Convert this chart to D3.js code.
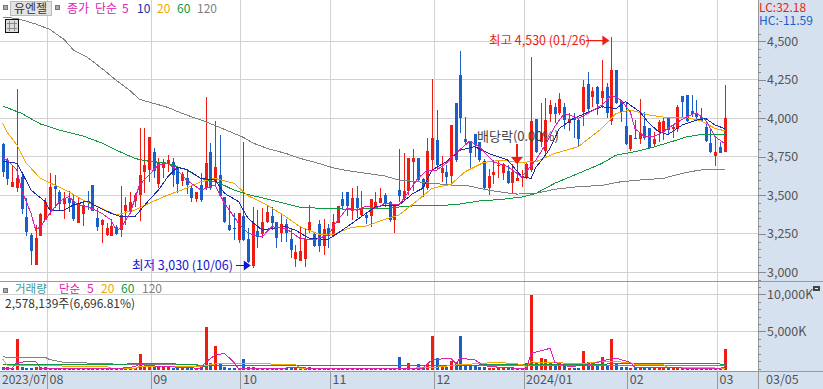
<!DOCTYPE html>
<html>
<head>
<meta charset="utf-8">
<script src="https://cdn.jsdelivr.net/npm/d3@7"></script>
<style>
  body { margin: 0; background: #fff; }
  svg { display: block; }
  text { font-family: "Liberation Sans Narrow", "Noto Sans CJK KR", sans-serif; }
</style>
</head>
<body>
<svg id="chart" width="823" height="389"></svg>
<script>
// daily candles (index 0 = left edge, 2023/07)
var opens = [
  3833,3729,3552,3545,3617,3357,3242,3047,3236,3339,
  3404,3560,3519,3443,3484,3465,3318,3378,3463,3567,
  3350,3307,3242,3236,3296,3274,3398,3394,3463,3502,
  3653,3664,3781,3573,3675,3712,3714,3675,3593,3610,
  3545,3476,3567,3545,3783,3588,3632,3491,3307,3287,
  3210,3365,3216,3041,3268,3246,3329,3365,3324,3253,
  3311,3214,3086,3075,3084,3270,3246,3313,3173,3287,
  3236,3322,3474,3521,3400,3480,3372,3372,3365,3415,
  3448,3502,3459,3339,3534,3480,3528,3718,3744,3606,
  3545,3729,3859,3647,3653,3627,4102,4281,3866,3855,
  3896,3844,3723,3549,3632,3690,3642,3658,3582,3595,
  3610,3610,3664,3995,3848,3790,4028,4071,4032,4071,
  3967,4000,3989,4039,4223,4140,4205,4134,4205,3985,
  4314,4114,3950,3798,3874,3866,3950,3935,3831,3909,
  3913,4000,3931,3928,4145,4151,4047,4037,4009,3946,
  3837,3755,3814,3783
];
var closes = [
  3653,3604,3588,3610,3411,3264,3140,3220,3378,3454,
  3556,3541,3443,3484,3452,3344,3443,3437,3456,3400,
  3292,3339,3290,3300,3248,3372,3437,3459,3502,3632,
  3697,3876,3658,3712,3718,3729,3632,3573,3638,3567,
  3480,3519,3469,3708,3545,3686,3498,3329,3274,3279,
  3383,3210,3064,3318,3227,3324,3394,3322,3225,3313,
  3257,3145,3129,3138,3218,3324,3173,3173,3281,3236,
  3326,3430,3430,3430,3480,3420,3415,3355,3476,3454,
  3480,3448,3339,3437,3495,3530,3744,3742,3599,3556,
  3788,3874,3697,3675,3621,3956,3729,4000,3844,3777,
  3827,3729,3549,3625,3649,3697,3701,3582,3649,3610,
  3619,3703,3985,3783,3907,3990,4086,4028,4123,3989,
  3993,3989,3868,4201,4058,4177,4093,4177,4032,4314,
  4097,4043,3833,3891,3868,3902,3870,3805,3866,3974,
  3982,3924,3946,4076,4104,3983,4026,4006,3983,3853,
  3783,3779,3777,4000
];
var highs = [
  3840,3740,3690,4190,3653,3480,3253,3307,3384,3480,
  3643,3632,3534,3523,3528,3502,3487,3469,3528,3567,
  3415,3346,3322,3344,3307,3560,3491,3519,3513,3937,
  3937,3876,3805,3740,3733,3762,3740,3686,3653,3668,
  3567,3524,3643,4136,3837,3980,3891,3491,3437,3383,
  3383,3848,3285,3422,3404,3415,3433,3426,3324,3378,
  3344,3285,3177,3303,3283,3437,3257,3339,3344,3313,
  3376,3430,3523,3521,3545,3560,3528,3387,3476,3523,
  3545,3513,3465,3443,3801,3772,3744,3798,3744,3610,
  3870,4253,4054,3755,3697,3956,4102,4437,4006,3855,
  3896,3844,3733,3669,3729,3723,3707,3697,3701,3833,
  3664,3707,4400,3995,4097,4130,4119,4101,4166,4101,
  4037,4037,3993,4249,4303,4201,4210,4379,4227,4530,
  4314,4114,4108,3891,3989,4125,4043,3935,3913,3989,
  4000,4000,3961,4087,4145,4151,4151,4119,4065,3967,
  3924,3881,3848,4216
];
var lows = [
  3621,3567,3552,3523,3378,3236,3047,3047,3236,3339,
  3372,3415,3398,3346,3394,3335,3318,3303,3404,3400,
  3270,3192,3236,3236,3242,3231,3307,3383,3426,3335,
  3513,3588,3610,3545,3610,3653,3556,3513,3560,3506,
  3459,3459,3459,3534,3534,3567,3495,3322,3268,3210,
  3192,3205,3058,3030,3155,3220,3318,3274,3155,3199,
  3199,3090,3032,3075,3036,3253,3166,3134,3112,3155,
  3236,3322,3404,3365,3339,3350,3357,3313,3296,3409,
  3448,3422,3329,3257,3459,3469,3502,3530,3593,3491,
  3534,3664,3664,3588,3567,3567,3718,3902,3827,3669,
  3751,3718,3539,3502,3573,3610,3599,3571,3513,3595,
  3556,3604,3649,3777,3811,3762,3978,3967,4021,3928,
  3920,3870,3811,3950,4043,4075,4021,4065,4000,3956,
  4090,3978,3827,3790,3866,3831,3859,3800,3822,3844,
  3859,3892,3870,3913,4011,3974,4011,3989,3974,3844,
  3773,3692,3773,3783
];
// volume in thousands of shares
var volumes = [
  150,150,60,4020,150,110,110,200,150,200,
  110,60,60,60,60,60,60,60,60,110,
  110,110,60,60,60,60,110,60,110,1900,
  250,560,250,180,180,180,110,110,110,110,
  60,60,250,5590,700,3030,560,250,110,110,
  60,1280,150,250,110,60,110,110,60,60,
  60,60,60,60,60,250,60,60,60,60,
  40,40,40,40,40,40,40,40,40,40,
  40,40,60,100,1550,60,700,110,560,40,
  560,4380,1370,250,250,1060,830,4380,470,470,
  330,250,250,110,110,110,30,30,200,30,
  30,700,9900,830,1370,1280,700,470,700,330,
  30,110,110,2360,830,380,380,1550,330,3990,
  700,150,150,30,110,60,60,60,60,60,
  60,60,60,110,110,60,60,110,110,60,
  60,60,60,2578
];

// moving averages, [candle index, value] read at the bends of each line
var ma5 = [[0,3740],[1,3729],[3,3664],[4,3534],[6,3383],[7,3274],[8,3296],[10,3383],[12,3459],[14,3491],[16,3437],[18,3426],[21,3383],[23,3339],[24,3274],[25,3285],[27,3383],[29,3567],[31,3632],[33,3697],[35,3708],[37,3664],[39,3599],[42,3534],[45,3567],[47,3448],[50,3318],[52,3253],[55,3231],[57,3296],[60,3285],[63,3220],[66,3210],[69,3242],[71,3339],[73,3415],[75,3404],[77,3430],[79,3415],[81,3448],[84,3437],[86,3523],[88,3610],[90,3664],[92,3664],[94,3708],[96,3772],[99,3853],[101,3816],[104,3718],[107,3686],[110,3620],[113,3729],[115,3827],[117,3946],[119,4032],[122,4000],[124,4032],[127,4086],[129,4151],[131,4118],[133,4043],[134,3934],[136,3880],[138,3880],[140,3913],[142,3956],[145,4010],[147,4036],[149,3988],[151,3880],[153,3837]];
var ma10 = [[0,3720],[3,3708],[4,3653],[6,3534],[9,3459],[10,3404],[13,3404],[15,3437],[18,3463],[20,3426],[23,3383],[25,3361],[28,3361],[31,3469],[33,3534],[35,3621],[37,3682],[39,3668],[42,3610],[45,3599],[47,3513],[50,3459],[52,3350],[55,3274],[57,3285],[60,3296],[62,3274],[65,3220],[69,3214],[71,3253],[73,3296],[76,3361],[79,3426],[82,3437],[84,3437],[87,3513],[89,3545],[91,3664],[94,3718],[97,3794],[100,3816],[103,3772],[107,3729],[110,3621],[112,3610],[113,3681],[115,3760],[116,3805],[118,3935],[121,4000],[127,4075],[130,4064],[132,4108],[135,4043],[137,3967],[139,3913],[141,3895],[144,3956],[147,3988],[149,3999],[151,3956],[153,3934]];
var ma20 = [[0,3967],[1,3907],[3,3827],[5,3708],[8,3610],[11,3567],[14,3523],[17,3469],[21,3415],[24,3372],[28,3404],[31,3448],[35,3502],[38,3534],[42,3588],[45,3610],[49,3578],[52,3497],[56,3437],[60,3361],[63,3296],[67,3248],[70,3246],[74,3292],[77,3300],[81,3344],[84,3372],[88,3469],[91,3545],[95,3571],[98,3653],[102,3714],[106,3729],[109,3714],[113,3718],[117,3772],[122,3816],[127,3935],[130,4032],[133,4054],[137,4021],[141,4004],[145,4004],[148,3984],[151,3934],[153,3919]];
var ma60 = [[0,4080],[4,4032],[8,3963],[12,3924],[17,3885],[21,3840],[24,3794],[28,3740],[30,3725],[35,3708],[39,3664],[42,3610],[46,3578],[49,3534],[52,3505],[57,3469],[63,3422],[68,3415],[74,3409],[81,3415],[86,3430],[91,3433],[96,3439],[101,3463],[106,3474],[110,3489],[113,3512],[117,3578],[122,3642],[127,3707],[130,3761],[134,3783],[137,3805],[141,3841],[145,3880],[148,3895],[153,3898]];
var ma120 = [[0,4655],[3,4649],[7,4612],[10,4577],[13,4512],[15,4443],[18,4395],[21,4324],[24,4248],[27,4179],[29,4123],[32,4097],[35,4071],[38,4032],[43,3978],[47,3928],[51,3876],[53,3840],[56,3805],[60,3772],[63,3740],[67,3707],[70,3679],[73,3660],[77,3643],[81,3625],[84,3599],[88,3588],[91,3578],[95,3567],[99,3560],[102,3539],[106,3519],[109,3508],[113,3513],[117,3539],[122,3556],[127,3564],[131,3588],[135,3599],[140,3610],[144,3642],[147,3660],[149,3668],[153,3668]];

var volMa5 = [[0,20],[2,20],[3,830],[7,970],[8,20],[16,0],[25,20],[28,250],[29,560],[31,380],[35,250],[42,20],[43,830],[45,1820],[47,2040],[49,830],[50,0],[59,0],[62,200],[65,20],[84,0],[89,20],[91,1170],[95,1390],[96,700],[97,1390],[100,1170],[102,380],[106,110],[111,0],[112,2040],[116,2720],[117,830],[120,250],[124,470],[128,1170],[130,1390],[133,830],[134,150],[152,0],[153,250]];
var volMa20 = [[0,1280],[1,380],[22,300],[23,20],[28,20],[29,250],[42,300],[46,700],[62,560],[63,20],[84,20],[91,110],[96,470],[105,830],[110,560],[111,250],[112,880],[116,830],[120,700],[122,610],[128,1010],[133,790],[134,560],[140,560],[141,100],[149,110],[153,20]];
var volMa60 = [[0,560],[25,560],[29,700],[36,700],[37,560],[41,560],[42,250],[46,470],[101,470],[129,610],[133,700],[151,650],[153,560]];
var volMa120 = [[0,1550],[9,1510],[10,1190],[13,830],[20,700],[25,560],[40,560],[42,380],[153,380]];

var monthStarts = [10, 32, 51, 70, 92, 111, 133, 152];
var monthLabels = ["08", "09", "10", "11", "12", "2024/01", "02", "03"];
var firstLabel = "2023/07";
var lastDate = "03/05";
var priceTicks = [3000, 3250, 3500, 3750, 4000, 4250, 4500];
var priceMinor = d3.range(2950, 4600, 50);
var volTicks = [5000, 10000];
var volMinor = d3.range(0, 12000, 1000);

var red = "#ee1c12", blue = "#1a5fc8", navy = "#1a2aa8", magenta = "#e020b0",
    orange = "#f0a800", green = "#109a40", gray = "#808080", gridColor = "#d2d2d2";

var plotRight = 758, priceBottom = 281, volBottom = 371;

var x = d3.scaleLinear().domain([0, 153]).range([2.7, 724.6]);
var y = d3.scaleLinear().domain([3000, 4500]).range([272.3, 41.3]);
var yVol = d3.scaleLinear().domain([0, 10000]).range([368.5, 294.3]);
var step = x(1) - x(0);

var svg = d3.select("#chart");

// panels
svg.append("rect").attr("x", plotRight).attr("y", 0).attr("width", 823 - plotRight).attr("height", 389).attr("fill", "#d6e1f0");
svg.append("rect").attr("x", 0).attr("y", volBottom).attr("width", plotRight).attr("height", 389 - volBottom).attr("fill", "#d6e1f0");

var grid = svg.append("g").attr("shape-rendering", "crispEdges").attr("stroke", gridColor);
grid.selectAll(".h").data(priceTicks).enter().append("line")
  .attr("x1", 0).attr("x2", plotRight).attr("y1", d => y(d)).attr("y2", d => y(d));
grid.selectAll(".hv").data(volTicks).enter().append("line")
  .attr("x1", 0).attr("x2", plotRight).attr("y1", d => yVol(d)).attr("y2", d => yVol(d));
grid.selectAll(".v").data(monthStarts).enter().append("line")
  .attr("x1", d => x(d) - step / 2).attr("x2", d => x(d) - step / 2)
  .attr("y1", 0).attr("y2", volBottom);

// candles
var candleData = opens.map(function (o, i) {
  return { i: i, open: o, close: closes[i], high: highs[i], low: lows[i], vol: volumes[i] };
});
function candleColor(d) { return d.close >= d.open ? red : blue; }

var candles = svg.append("g").attr("shape-rendering", "crispEdges");
candles.selectAll(".wick").data(candleData).enter().append("rect")
  .attr("x", d => Math.round(x(d.i)))
  .attr("width", 1)
  .attr("y", d => y(d.high))
  .attr("height", d => y(d.low) - y(d.high))
  .attr("fill", candleColor);
candles.selectAll(".body").data(candleData).enter().append("rect")
  .attr("x", d => Math.round(x(d.i)) - 1)
  .attr("width", 3)
  .attr("y", d => y(Math.max(d.open, d.close)))
  .attr("height", d => Math.max(1, Math.abs(y(d.open) - y(d.close))))
  .attr("fill", candleColor);

// volume bars run down to just above the date band
var bars = svg.append("g").attr("shape-rendering", "crispEdges");
bars.selectAll("rect").data(candleData).enter().append("rect")
  .attr("x", d => Math.round(x(d.i)) - 1)
  .attr("width", 3)
  .attr("y", d => yVol(d.vol))
  .attr("height", d => volBottom - 1 - yVol(d.vol))
  .attr("fill", candleColor);

// moving average lines, aliased like the original
var priceLine = d3.line().x(d => x(d[0])).y(d => y(d[1]));
var volLine = d3.line().x(d => x(d[0])).y(d => yVol(d[1]));

[[ma120, gray], [ma60, green], [ma20, orange], [ma10, navy], [ma5, magenta]].forEach(function (s) {
  svg.append("path").attr("d", priceLine(s[0])).attr("fill", "none").attr("stroke", s[1])
    .attr("stroke-width", 1).attr("shape-rendering", "crispEdges");
});
[[volMa120, gray], [volMa60, green], [volMa20, orange], [volMa5, magenta]].forEach(function (s) {
  svg.append("path").attr("d", volLine(s[0])).attr("fill", "none").attr("stroke", s[1])
    .attr("stroke-width", 1).attr("shape-rendering", "crispEdges");
});

// separators
var seps = svg.append("g").attr("shape-rendering", "crispEdges").attr("stroke", "#999");
seps.append("line").attr("x1", 0).attr("x2", 823).attr("y1", priceBottom).attr("y2", priceBottom);
seps.append("line").attr("x1", 0).attr("x2", 823).attr("y1", volBottom).attr("y2", volBottom);
seps.append("line").attr("x1", plotRight).attr("x2", plotRight).attr("y1", 0).attr("y2", 389);
seps.selectAll(".t").data(monthStarts).enter().append("line")
  .attr("x1", d => x(d) - step / 2).attr("x2", d => x(d) - step / 2)
  .attr("y1", volBottom).attr("y2", 389);

// right axes
function styleAxis(g) {
  g.attr("shape-rendering", "crispEdges");
  g.select(".domain").remove();
  g.selectAll("line").attr("stroke", "#888");
  g.selectAll("text").attr("fill", "#555").style("font-size", "12.5px");
}
svg.append("g").attr("transform", "translate(" + plotRight + ",0)")
  .call(d3.axisRight(y).tickValues(priceMinor).tickSize(3).tickFormat(""))
  .call(styleAxis);
svg.append("g").attr("transform", "translate(" + plotRight + ",0)")
  .call(d3.axisRight(y).tickValues(priceTicks).tickSize(8).tickPadding(1).tickFormat(d3.format(",")))
  .call(styleAxis);
svg.append("g").attr("transform", "translate(" + plotRight + ",0)")
  .call(d3.axisRight(yVol).tickValues(volMinor).tickSize(3).tickFormat(""))
  .call(styleAxis);
svg.append("g").attr("transform", "translate(" + plotRight + ",0)")
  .call(d3.axisRight(yVol).tickValues(volTicks).tickSize(8).tickPadding(1).tickFormat(d => d3.format(",")(d) + "K"))
  .call(styleAxis);

function label(txt, px, py, color, size) {
  return svg.append("text").attr("x", px).attr("y", py).attr("dy", "0.35em")
    .attr("fill", color).style("font-size", (size || 12.5) + "px").text(txt);
}

// month labels along the bottom
label(firstLabel, 2, 380, "#555", 12);
monthStarts.forEach(function (m, k) {
  label(monthLabels[k], x(m) - step / 2 + 2, 380, "#555");
});
label(lastDate, 766, 380, "#555");

// top legend
function button(px, py, size) {
  svg.append("rect").attr("x", px + 0.5).attr("y", py + 0.5).attr("width", size).attr("height", size)
    .attr("fill", "#aaa").attr("stroke", "#777").attr("shape-rendering", "crispEdges");
}
button(3, 5, 4);
button(55, 5, 4);
svg.append("rect").attr("x", 10.5).attr("y", 1.5).attr("width", 41).attr("height", 14)
  .attr("fill", "#e4e4e4").attr("stroke", "#bbb").attr("shape-rendering", "crispEdges");
label("유엔젤", 14, 9, "#333", 12);
label("종가", 67, 9, magenta, 12);
label("단순", 95, 9, magenta, 12);
label("5", 122, 9, magenta, 12);
label("10", 137, 9, navy, 12);
label("20", 157, 9, orange, 12);
label("60", 177, 9, green, 12);
label("120", 197, 9, gray, 12);

// little table icon under the name
var icon = svg.append("g").attr("shape-rendering", "crispEdges");
icon.append("rect").attr("x", 5.5).attr("y", 19.5).attr("width", 13).attr("height", 13).attr("fill", "#ddd").attr("stroke", "#111");
[9.5, 14.5].forEach(function (p) {
  icon.append("line").attr("x1", p).attr("x2", p).attr("y1", 21).attr("y2", 31).attr("stroke", "#888");
});
[23.5, 28.5].forEach(function (p) {
  icon.append("line").attr("x1", 7).attr("x2", 17).attr("y1", p).attr("y2", p).attr("stroke", "#888");
});

// LC / HC
label("LC:32.18", 759, 8, red, 12);
label("HC:-11.59", 759, 21, blue, 12);

// volume legend
button(3, 288, 4);
label("거래량", 15, 289, "#3a9a9a", 11.5);
label("단순", 59, 289, magenta, 11.5);
label("5", 87, 289, magenta, 12);
label("20", 101, 289, orange, 12);
label("60", 121, 289, green, 12);
label("120", 142, 289, gray, 12);
label("2,578,139주(6,696.81%)", 5, 304, "#333", 12);

// small panel button, top right of the volume axis
svg.append("rect").attr("x", 813).attr("y", 286).attr("width", 7).attr("height", 5).attr("fill", "#444");
svg.append("rect").attr("x", 815).attr("y", 288).attr("width", 3).attr("height", 1).attr("fill", "#eee");

// annotations
function arrowRight(x0, x1, py, color) {
  svg.append("line").attr("x1", x0).attr("x2", x1 - 6).attr("y1", py).attr("y2", py)
    .attr("stroke", color).attr("shape-rendering", "crispEdges");
  svg.append("path").attr("d", d3.line()([[x1 - 7, py - 5], [x1, py], [x1 - 7, py + 5]]) + "Z").attr("fill", color);
}
var hiIdx = highs.indexOf(d3.max(highs));
var loIdx = lows.indexOf(d3.min(lows));
label("최고 4,530 (01/26)", 489, 40.5, red, 12.5);
arrowRight(586, x(hiIdx) - 2, 40.5, red);
label("최저 3,030 (10/06)", 132, 265.5, "#1414d0", 12.5);
arrowRight(236, x(loIdx) - 2, 265.5, "#1414d0");

label("배당락(0.00%)", 477, 136, "#444", 13);
svg.append("line").attr("x1", x(109)).attr("x2", x(109)).attr("y1", 144).attr("y2", 158)
  .attr("stroke", red).attr("shape-rendering", "crispEdges");
svg.append("path").attr("d", d3.line()([[x(109) - 6, 157], [x(109) + 6, 157], [x(109), 164]]) + "Z").attr("fill", red);
</script>
</body>
</html>
